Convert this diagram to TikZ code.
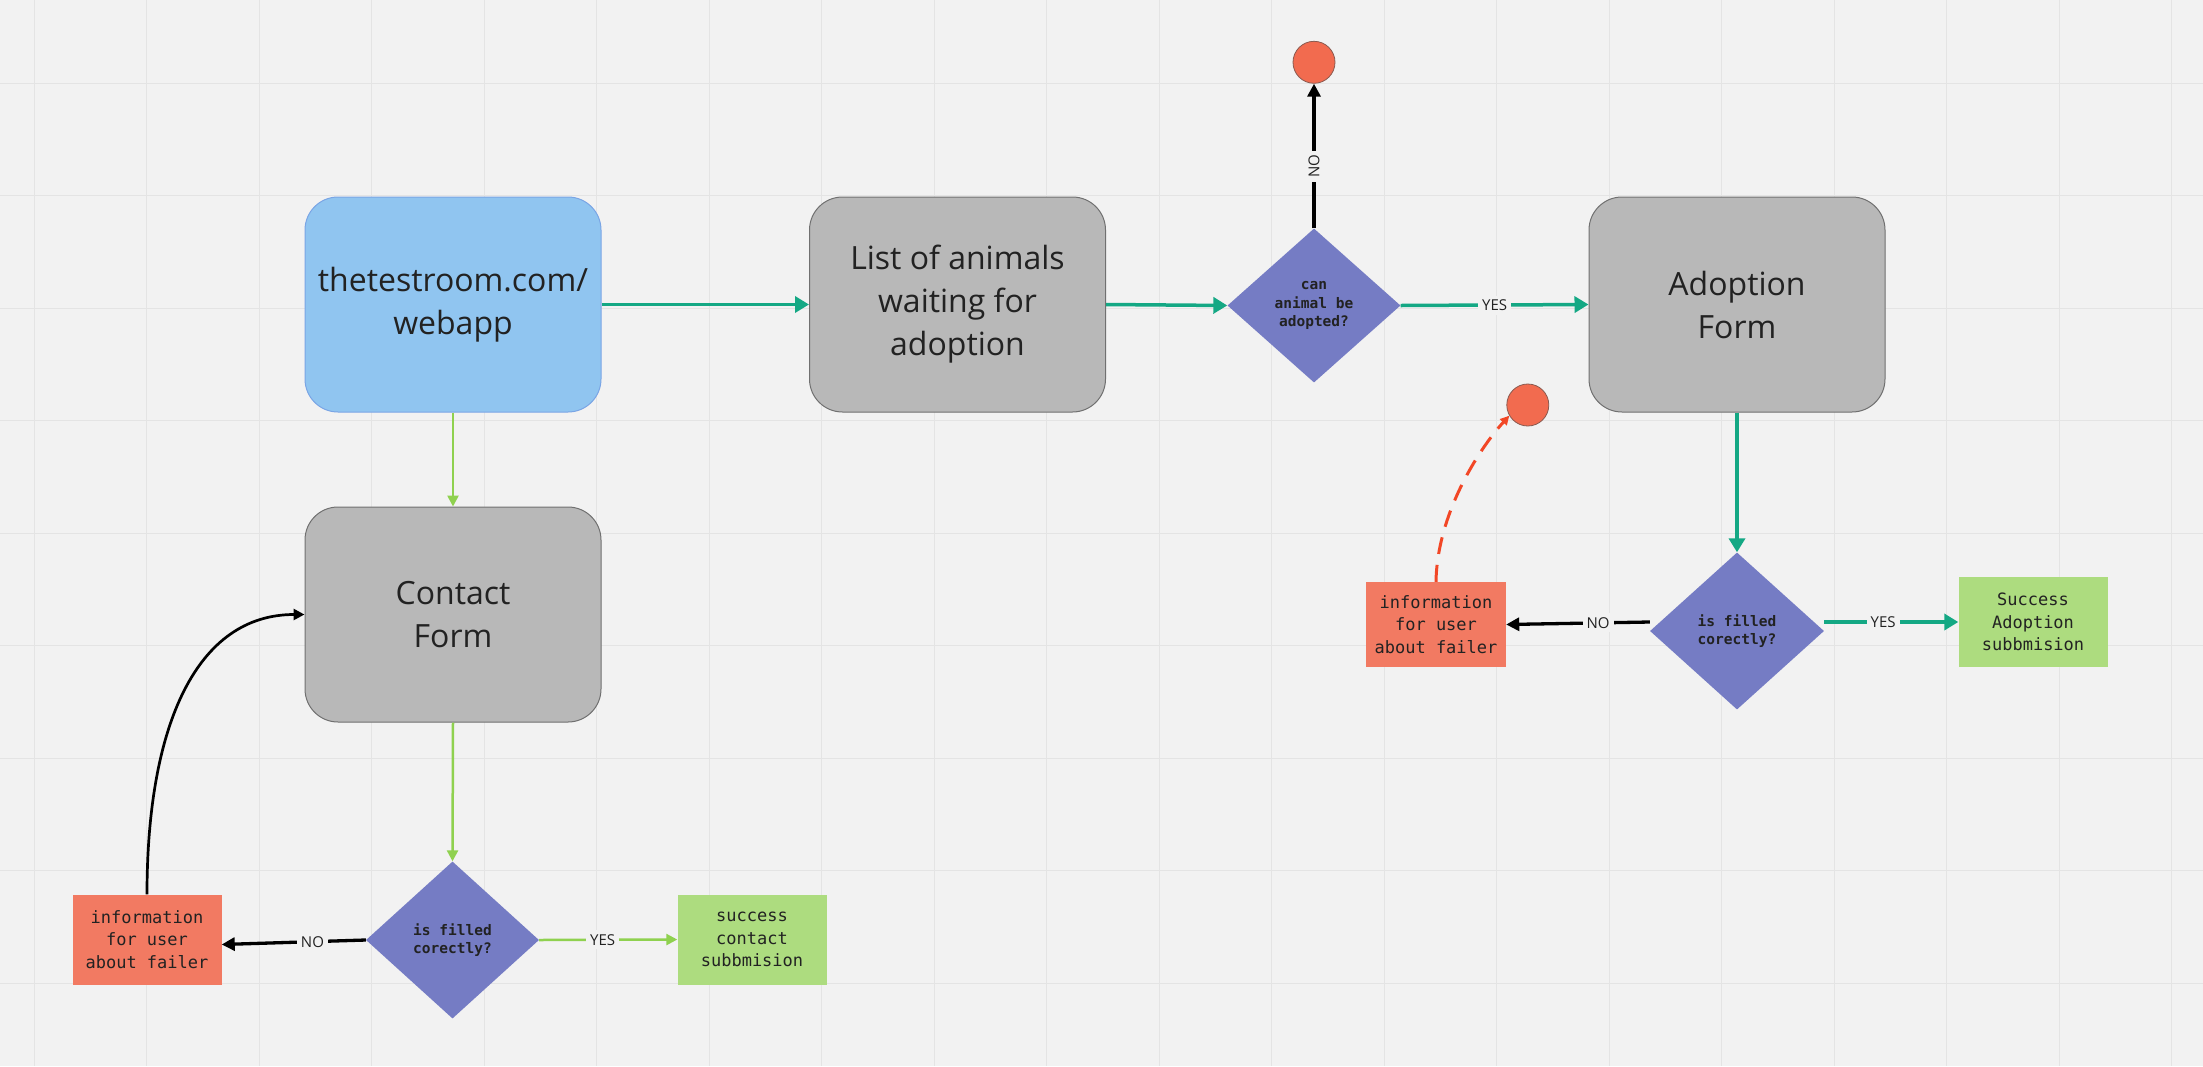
\documentclass[tikz,border=0pt]{standalone}
\usepackage{fontspec}
\setmainfont{Open Sans}
\setmonofont{DejaVu Sans Mono}
\usetikzlibrary{shapes.geometric,arrows.meta}
\definecolor{bg}{HTML}{F2F2F2}
\definecolor{gridc}{HTML}{E4E4E4}
\definecolor{tealc}{RGB}{20,168,132}
\definecolor{lgreen}{HTML}{8FD14F}
\definecolor{bluefill}{HTML}{90C5F0}
\definecolor{blueline}{HTML}{7AA5E5}
\definecolor{grayfill}{HTML}{B8B8B8}
\definecolor{grayline}{HTML}{707070}
\definecolor{violet}{RGB}{117,124,196}
\definecolor{salmon}{RGB}{242,122,98}
\definecolor{endred}{RGB}{242,107,79}
\definecolor{endline}{HTML}{8A5A50}
\definecolor{succgreen}{RGB}{173,220,127}
\definecolor{dashred}{HTML}{F24726}
\definecolor{txt}{HTML}{222222}
\tikzset{
  bigbox/.style={rectangle, rounded corners=33pt, minimum width=296pt, minimum height=215pt,
    align=center, inner sep=0pt, line width=1pt, text=txt,
    font=\fontsize{32}{43}\selectfont},
  graybox/.style={bigbox, fill=grayfill, draw=grayline},
  bluebox/.style={bigbox, fill=bluefill, draw=blueline},
  decision/.style={diamond, fill=violet, inner sep=0pt, align=center, text=txt,
    font=\ttfamily\bfseries\fontsize{14.5}{18.5}\selectfont},
  smallbox/.style={rectangle, inner sep=0pt, align=center, text=txt,
    font=\ttfamily\fontsize{17}{22.5}\selectfont, minimum width=149pt, minimum height=90pt},
  infobox/.style={smallbox, fill=salmon},
  okbox/.style={smallbox, fill=succgreen},
  endpoint/.style={circle, fill=endred, draw=endline, line width=0.8pt, minimum size=42pt, inner sep=0pt},
  lbl/.style={fill=bg, inner sep=4pt, text=txt, font=\fontsize{15}{18}\selectfont},
  tealarrow/.style={draw=tealc, line width=3.5pt, -{Triangle[length=14pt,width=16pt]}},
  greenarrow/.style={draw=lgreen, line width=2.5pt, -{Triangle[length=11pt,width=11pt]}},
  blackarrow/.style={draw=black, line width=3.3pt, -{Triangle[length=13pt,width=13pt]}},
  thinblack/.style={draw=black, line width=2.7pt, -{Triangle[length=11pt,width=11pt]}},
  reddash/.style={draw=dashred, line width=3pt, dash pattern=on 17pt off 11pt, -{Triangle[length=9pt,width=9pt]}},
  gridline/.style={draw=gridc, line width=1pt}
}
\begin{document}
\begin{tikzpicture}[x=1pt,y=-1pt]
\fill[bg] (0,0) rectangle (2203,1066);
\useasboundingbox (0,0) rectangle (2203,1066);
\foreach \i in {0,...,19} \draw[gridline] ({34.2+112.5*\i},0) -- ({34.2+112.5*\i},1066);
\foreach \j in {0,...,8} \draw[gridline] (0,{83.3+112.5*\j}) -- (2203,{83.3+112.5*\j});

% top row
\node[bluebox] (web) at (453,304.5) {thetestroom.com/\\webapp};
\node[graybox] (list) at (957.5,304.5) {List of animals\\waiting for\\adoption};
\node[decision, minimum width=173pt, minimum height=154pt] (d1) at (1314,305.5) {can\\animal be\\adopted?};
\node[endpoint] (c1) at (1314,62.3) {};
\node[graybox] (adopt) at (1737,304.5) {Adoption\\Form};

% adoption branch
\node[decision, minimum width=174pt, minimum height=157pt] (d2) at (1737,631) {is filled\\corectly?};
\node[infobox, minimum width=140pt, minimum height=85pt] (info2) at (1436,624.5) {information\\for user\\about failer};
\node[okbox] (succ2) at (2033,622) {Success\\Adoption\\subbmision};
\node[endpoint] (c2) at (1527.8,405) {};

% contact branch
\node[graybox] (contact) at (453,614.5) {Contact\\Form};
\node[decision, minimum width=173pt, minimum height=157pt] (d3) at (452.5,940) {is filled\\corectly?};
\node[infobox] (info1) at (147,939.5) {information\\for user\\about failer};
\node[okbox] (succ1) at (752,939.5) {success\\contact\\subbmision};

% connectors
\draw[tealarrow] (web.east) -- (list.west);
\draw[tealarrow] (list.east) -- (d1.west);
\draw[tealarrow] (d1.east) -- node[lbl]{YES} (adopt.west);
\draw[blackarrow] (d1.north) -- node[lbl, rotate=90, pos=0.43]{NO} (c1.south);
\draw[tealarrow] (adopt.south) -- (d2.north);
\draw[blackarrow] ([yshift=9pt]d2.west) -- node[lbl, pos=0.36]{NO} (info2.east);
\draw[tealarrow] ([yshift=9pt]d2.east) -- node[lbl, pos=0.44]{YES} (succ2.west);
\draw[reddash] (info2.north) .. controls (1437,515) and (1478,450) .. (c2.210);

\draw[greenarrow] (web.south) -- (contact.north);
\draw[greenarrow] (contact.south) -- (d3.north);
\draw[greenarrow] (d3.east) -- node[lbl, pos=0.46]{YES} (succ1.west);
\draw[blackarrow] (d3.west) -- node[lbl, pos=0.37]{NO} ([yshift=-5pt]info1.east);
\draw[thinblack] (info1.north) .. controls (147,724) and (197,614.5) .. (contact.west);
\end{tikzpicture}
\end{document}
